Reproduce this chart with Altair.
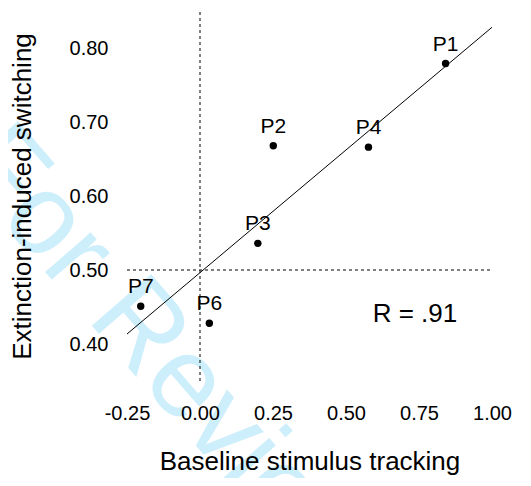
import altair as alt
import pandas as pd

# Data
labels = ["P1", "P2", "P3", "P4", "P6", "P7"]
tracking = [0.841, 0.251, 0.198, 0.577, 0.032, -0.203]
switching = [0.779, 0.668, 0.536, 0.666, 0.428, 0.451]

fit_x = [-0.25, 1.0]
fit_y = [0.4135, 0.828]

x_ticks = [-0.25, 0.0, 0.25, 0.5, 0.75, 1.0]
y_ticks = [0.4, 0.5, 0.6, 0.7, 0.8]

x_domain = [-0.25, 1.0]
y_domain = [0.35, 0.85]

ref_x = [0.0]
ref_y = [0.5]

r_text = ["R = .91"]
r_pos_x = [0.736]
r_pos_y = [0.4405]

wm_text = ["For Review"]
wm_x = [-0.199]
wm_y = [0.347]

FONT = "Liberation Sans"

pts = pd.DataFrame({"label": labels, "x": tracking, "y": switching})
fit = pd.DataFrame({"x": fit_x, "y": fit_y})

xs = alt.Scale(domain=x_domain, nice=False, zero=False)
ys = alt.Scale(domain=y_domain, nice=False, zero=False)

xaxis = alt.Axis(values=x_ticks, title="Baseline stimulus tracking",
                 labelExpr="replace(format(datum.value, '.2f'), '\u2212', '-')",
                 labelFlush=False, labelOverlap=False,
                 labelPadding=22, titlePadding=25, zindex=1)
yaxis = alt.Axis(values=y_ticks, title="Extinction-induced switching",
                 labelExpr="format(datum.value, '.2f')",
                 labelFlush=False, labelOverlap=False,
                 labelPadding=19, titlePadding=34, zindex=1)

wm = alt.Chart(pd.DataFrame({"t": wm_text, "x": wm_x, "y": wm_y})).mark_text(
    font=FONT, fontSize=114, angle=49, color="#cdeefb", align="center", baseline="alphabetic"
).encode(x=alt.X("x:Q", scale=xs, axis=xaxis), y=alt.Y("y:Q", scale=ys, axis=yaxis), text="t:N")

vline = alt.Chart(pd.DataFrame({"x": ref_x, "y": [y_domain[0]], "y2": [y_domain[1]]})).mark_rule(
    color="black", strokeDash=[3, 3], strokeWidth=1
).encode(x=alt.X("x:Q", scale=xs), y=alt.Y("y:Q", scale=ys), y2="y2:Q")

hline = alt.Chart(pd.DataFrame({"y": ref_y, "x": [x_domain[0]], "x2": [x_domain[1]]})).mark_rule(
    color="black", strokeDash=[3, 3], strokeWidth=1
).encode(y=alt.Y("y:Q", scale=ys), x=alt.X("x:Q", scale=xs), x2="x2:Q")

line = alt.Chart(fit).mark_line(color="black", strokeWidth=1).encode(
    x=alt.X("x:Q", scale=xs), y=alt.Y("y:Q", scale=ys))

points = alt.Chart(pts).mark_circle(color="black", opacity=1, size=55).encode(
    x=alt.X("x:Q", scale=xs), y=alt.Y("y:Q", scale=ys))

plabels = alt.Chart(pts).mark_text(
    font=FONT, fontSize=21, dy=-19, align="center", baseline="middle", color="black"
).encode(x=alt.X("x:Q", scale=xs), y=alt.Y("y:Q", scale=ys), text="label:N")

rtext = alt.Chart(pd.DataFrame({"t": r_text, "x": r_pos_x, "y": r_pos_y})).mark_text(
    font=FONT, fontSize=26, align="center", baseline="middle", color="black"
).encode(x=alt.X("x:Q", scale=xs), y=alt.Y("y:Q", scale=ys), text="t:N")

chart = alt.layer(wm, vline, hline, line, points, plabels, rtext).properties(
    width=365, height=370,
    autosize=alt.AutoSizeParams(type="none"),
    padding={"left": 119, "top": 3, "right": 31, "bottom": 97},
).configure(background="white").configure_view(stroke=None).configure_axis(
    grid=False, domain=False, ticks=False,
    labelFont=FONT, labelFontSize=20, labelColor="black",
    titleFont=FONT, titleFontSize=26, titleFontWeight="normal", titleColor="black",
)

chart.save("out.html", embed_options={"renderer": "svg", "actions": False})
